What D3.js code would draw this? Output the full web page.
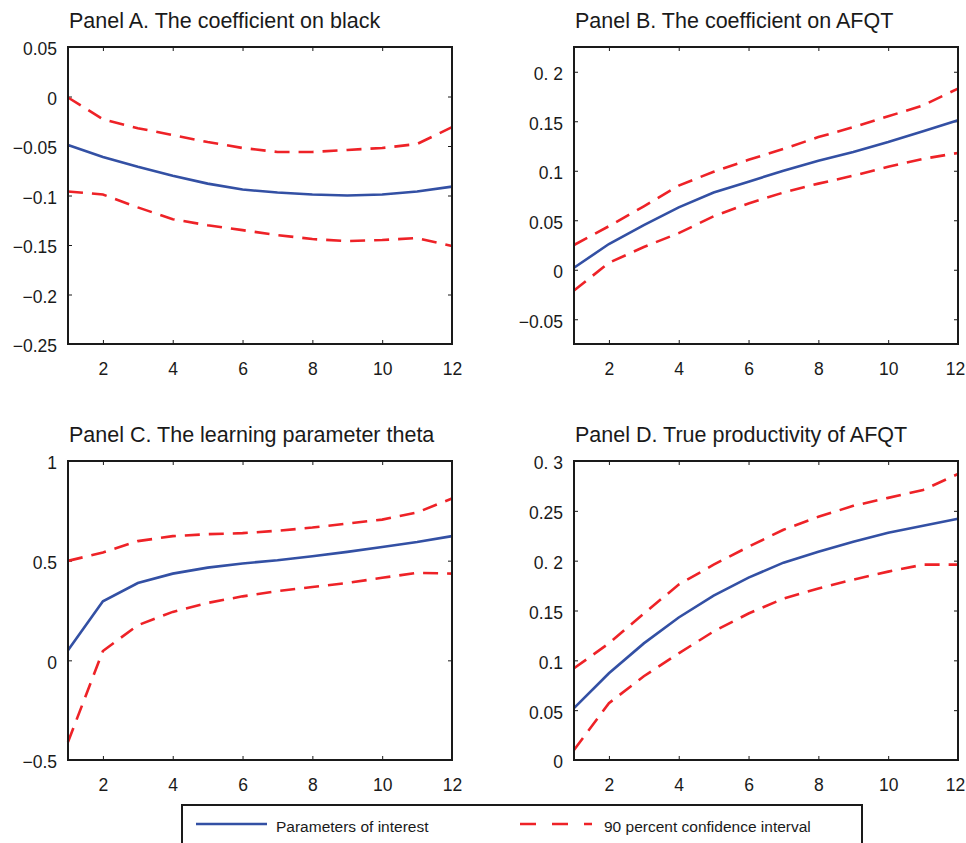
<!DOCTYPE html>
<html>
<head>
<meta charset="utf-8">
<script src="https://cdn.jsdelivr.net/npm/d3@7"></script>
<style>
  html, body { margin: 0; padding: 0; background: #fff; }
  svg { display: block; font-family: "Liberation Sans", Arial, Helvetica, sans-serif; }
</style>
</head>
<body>
<svg id="chart" width="966" height="843"></svg>
<script>
// ---------- data ----------
const years = [1, 2, 3, 4, 5, 6, 7, 8, 9, 10, 11, 12];

const blackEst   = [-0.049, -0.061, -0.071, -0.080, -0.088, -0.094, -0.097, -0.099, -0.100, -0.099, -0.096, -0.091];
const blackUpper = [-0.001, -0.023, -0.032, -0.039, -0.046, -0.052, -0.056, -0.056, -0.054, -0.052, -0.048, -0.031];
const blackLower = [-0.096, -0.099, -0.112, -0.124, -0.130, -0.135, -0.140, -0.144, -0.146, -0.145, -0.143, -0.151];

const afqtEst   = [0.002, 0.026, 0.045, 0.063, 0.078, 0.089, 0.100, 0.110, 0.119, 0.129, 0.140, 0.151];
const afqtUpper = [0.025, 0.044, 0.064, 0.085, 0.099, 0.111, 0.122, 0.134, 0.144, 0.155, 0.166, 0.183];
const afqtLower = [-0.021, 0.007, 0.023, 0.037, 0.054, 0.067, 0.078, 0.087, 0.095, 0.104, 0.112, 0.118];

const thetaEst   = [0.050, 0.296, 0.388, 0.435, 0.465, 0.486, 0.502, 0.522, 0.544, 0.569, 0.594, 0.623];
const thetaUpper = [0.499, 0.541, 0.598, 0.623, 0.633, 0.638, 0.650, 0.666, 0.686, 0.706, 0.742, 0.812];
const thetaLower = [-0.410, 0.047, 0.176, 0.243, 0.288, 0.321, 0.347, 0.368, 0.388, 0.414, 0.439, 0.435];

const prodEst   = [0.052, 0.087, 0.117, 0.143, 0.165, 0.183, 0.198, 0.209, 0.219, 0.228, 0.235, 0.242];
const prodUpper = [0.092, 0.117, 0.147, 0.176, 0.196, 0.214, 0.231, 0.244, 0.255, 0.263, 0.271, 0.287];
const prodLower = [0.010, 0.057, 0.084, 0.107, 0.129, 0.147, 0.162, 0.172, 0.181, 0.189, 0.196, 0.196];

const xTicks = [2, 4, 6, 8, 10, 12];

const yTicksA  = [0.05, 0, -0.05, -0.1, -0.15, -0.2, -0.25];
const yLabelsA = ["0.05", "0", "\u22120.05", "\u22120.1", "\u22120.15", "\u22120.2", "\u22120.25"];
const yTicksB  = [0.2, 0.15, 0.1, 0.05, 0, -0.05];
const yLabelsB = ["0. 2", "0.15", "0.1", "0.05", "0", "\u22120.05"];
const yTicksC  = [1, 0.5, 0, -0.5];
const yLabelsC = ["1", "0.5", "0", "\u22120.5"];
const yTicksD  = [0.3, 0.25, 0.2, 0.15, 0.1, 0.05, 0];
const yLabelsD = ["0. 3", "0.25", "0. 2", "0.15", "0.1", "0.05", "0"];

const titles = [
  "Panel A. The coefficient on black",
  "Panel B. The coefficient on AFQT",
  "Panel C. The learning parameter theta",
  "Panel D. True productivity of AFQT"
];
const legendLabels = ["Parameters of interest", "90 percent confidence interval"];

// ---------- layout ----------
const BLUE = "#3350a4";
const RED = "#ee2227";
const INK = "#1a1a1a";
const FONT = "'Liberation Sans', Arial, Helvetica, sans-serif";
const panels = [
  { title: titles[0], left: 68,  top: 47,  w: 384, h: 297, dom: [-0.25, 0.05],  ticks: yTicksA, labels: yLabelsA, est: blackEst, up: blackUpper, lo: blackLower, edge: false },
  { title: titles[1], left: 574, top: 47,  w: 384, h: 297, dom: [-0.075, 0.225], ticks: yTicksB, labels: yLabelsB, est: afqtEst, up: afqtUpper, lo: afqtLower, edge: true },
  { title: titles[2], left: 68,  top: 461, w: 384, h: 299, dom: [-0.5, 1],      ticks: yTicksC, labels: yLabelsC, est: thetaEst, up: thetaUpper, lo: thetaLower, edge: false },
  { title: titles[3], left: 574, top: 461, w: 384, h: 299, dom: [0, 0.3],       ticks: yTicksD, labels: yLabelsD, est: prodEst, up: prodUpper, lo: prodLower, edge: true }
];

const svg = d3.select("#chart");

panels.forEach(p => {
  const g = svg.append("g").attr("transform", `translate(${p.left},${p.top})`);
  const x = d3.scaleLinear().domain([1, 12]).range([0, p.w]);
  const y = d3.scaleLinear().domain(p.dom).range([p.h, 0]);

  svg.append("text")
    .attr("x", p.left + 1)
    .attr("y", p.top - 19)
    .attr("font-size", 21.5)
    .attr("fill", INK)
    .text(p.title);

  const labelMap = new Map(p.ticks.map((t, i) => [t, p.labels[i]]));

  const yl = g.append("g").call(
    d3.axisLeft(y).tickValues(p.ticks).tickSizeInner(-4).tickSizeOuter(0).tickPadding(11)
      .tickFormat(d => labelMap.get(d))
  );
  const yr = g.append("g").attr("transform", `translate(${p.w},0)`).call(
    d3.axisRight(y).tickValues(p.ticks).tickSizeInner(-4).tickSizeOuter(0).tickFormat("")
  );
  const xb = g.append("g").attr("transform", `translate(0,${p.h})`).call(
    d3.axisBottom(x).tickValues(xTicks).tickSizeInner(-4).tickSizeOuter(0).tickPadding(20)
  );
  const xt = g.append("g").call(
    d3.axisTop(x).tickValues(xTicks).tickSizeInner(-4).tickSizeOuter(0).tickFormat("")
  );
  [yl, yr, xb, xt].forEach(a => {
    a.select(".domain").remove();
    a.selectAll("line").attr("stroke", INK).attr("stroke-width", 1);
    a.selectAll("text").attr("font-size", 17.5).attr("fill", INK).attr("font-family", FONT);
  });
  yl.selectAll("text").attr("dy", "0.45em");
  xb.selectAll("text").attr("dy", "0.6em");
  if (p.edge) {
    xb.selectAll(".tick").filter(d => d === 12).select("text").attr("dx", -3);
  }

  const line = d3.line().x((d, i) => x(years[i])).y(d => y(d));

  g.append("path").datum(p.up).attr("d", line)
    .attr("fill", "none").attr("stroke", RED).attr("stroke-width", 2.6)
    .attr("stroke-dasharray", "15,9");
  g.append("path").datum(p.lo).attr("d", line)
    .attr("fill", "none").attr("stroke", RED).attr("stroke-width", 2.6)
    .attr("stroke-dasharray", "15,9");
  g.append("path").datum(p.est).attr("d", line)
    .attr("fill", "none").attr("stroke", BLUE).attr("stroke-width", 2.6);

  g.append("rect").attr("x", 0).attr("y", 0).attr("width", p.w).attr("height", p.h)
    .attr("fill", "none").attr("stroke", INK).attr("stroke-width", 2);
});

// ---------- legend ----------
const lg = svg.append("g");
lg.append("rect").attr("x", 182).attr("y", 805).attr("width", 680).attr("height", 60)
  .attr("fill", "#fff").attr("stroke", INK).attr("stroke-width", 2);
lg.append("line").attr("x1", 196).attr("x2", 267).attr("y1", 824).attr("y2", 824)
  .attr("stroke", BLUE).attr("stroke-width", 2.6);
lg.append("text").attr("x", 276).attr("y", 832).attr("font-size", 15.5).attr("fill", INK)
  .text(legendLabels[0]);
lg.append("line").attr("x1", 520).attr("x2", 592).attr("y1", 824).attr("y2", 824)
  .attr("stroke", RED).attr("stroke-width", 2.6).attr("stroke-dasharray", "16,16");
lg.append("text").attr("x", 604).attr("y", 832).attr("font-size", 15.5).attr("fill", INK)
  .text(legendLabels[1]);
</script>
</body>
</html>
